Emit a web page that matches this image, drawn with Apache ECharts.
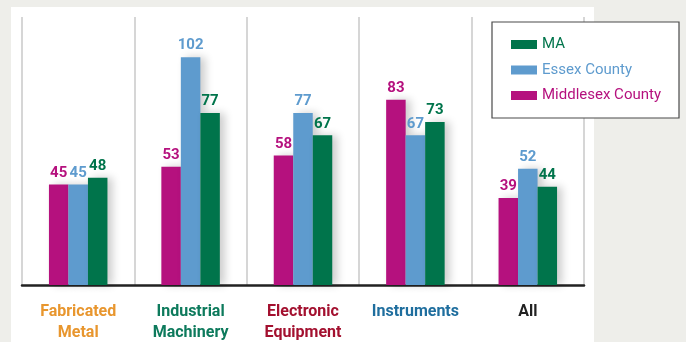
<!DOCTYPE html>
<html><head><meta charset="utf-8">
<script src="https://cdn.jsdelivr.net/npm/echarts@6/dist/echarts.min.js"></script>
<style>html,body{margin:0;padding:0;background:#eeeeea;}#c{width:686px;height:342px;}</style>
</head><body><div id="c"></div>
<script>
const categories = ['Fabricated\nMetal', 'Industrial\nMachinery', 'Electronic\nEquipment', 'Instruments', 'All'];
const categoryColors = ['#e8962e', '#0d7a5c', '#a3102f', '#1f6e9e', '#222222'];
const middlesex = [45, 53, 58, 83, 39];
const essex = [45, 102, 77, 67, 52];
const ma = [48, 77, 67, 73, 44];
const seriesNames = ['Middlesex County', 'Essex County', 'MA'];
const seriesColors = ['#b5117e', '#5e9bce', '#00744b'];
const legendOrder = ['MA', 'Essex County', 'Middlesex County'];

const font = "Roboto, 'DejaVu Sans Condensed', sans-serif";
const chart = echarts.init(document.getElementById('c'), null, {renderer: 'canvas'});
const rich = {};
categoryColors.forEach((c, i) => { rich['c' + i] = {color: c, fontFamily: font, fontWeight: 'bold', fontSize: 16, lineHeight: 21}; });

const dataSets = [middlesex, essex, ma];
chart.setOption({
  backgroundColor: '#eeeeea',
  animation: false,
  graphic: [
    {type: 'rect', shape: {x: 11, y: 7, width: 583, height: 340}, style: {fill: '#ffffff'}, z: -10},
    {type: 'rect', shape: {x: 492, y: 22, width: 187, height: 96}, style: {fill: '#ffffff', stroke: '#4a4a4a', lineWidth: 1.2}, z: 50}
  ],
  grid: {left: 22, right: 102, top: 17, bottom: 57},
  legend: {
    data: legendOrder.map(n => ({name: n, textStyle: {color: seriesColors[seriesNames.indexOf(n)]}})),
    orient: 'vertical', left: 506, top: 32, z: 60,
    itemWidth: 26, itemHeight: 9, itemGap: 10.5, icon: 'rect',
    textStyle: {fontFamily: font, fontSize: 15}
  },
  xAxis: {
    type: 'category', data: categories,
    axisLine: {lineStyle: {color: '#222', width: 2.5}},
    axisTick: {show: false},
    splitLine: {show: true, lineStyle: {color: '#c8c8c8', width: 1.5}},
    axisLabel: {
      margin: 16, interval: 0, rich: rich,
      formatter: (v, i) => v.split('\n').map(l => '{c' + i + '|' + l + '}').join('\n')
    }
  },
  yAxis: {type: 'value', min: 0, max: 120, show: false, splitLine: {show: false}},
  series: dataSets.map((d, i) => ({
    name: seriesNames[i], type: 'bar', data: d,
    barWidth: 19.5, barGap: '0%',
    itemStyle: {color: seriesColors[i], shadowBlur: 8, shadowOffsetX: 5, shadowColor: 'rgba(0,0,0,0.2)'},
    label: {show: true, position: 'top', distance: 4, color: seriesColors[i],
      fontFamily: font, fontWeight: 'bold', fontSize: 15}
  }))
});
</script></body></html>
